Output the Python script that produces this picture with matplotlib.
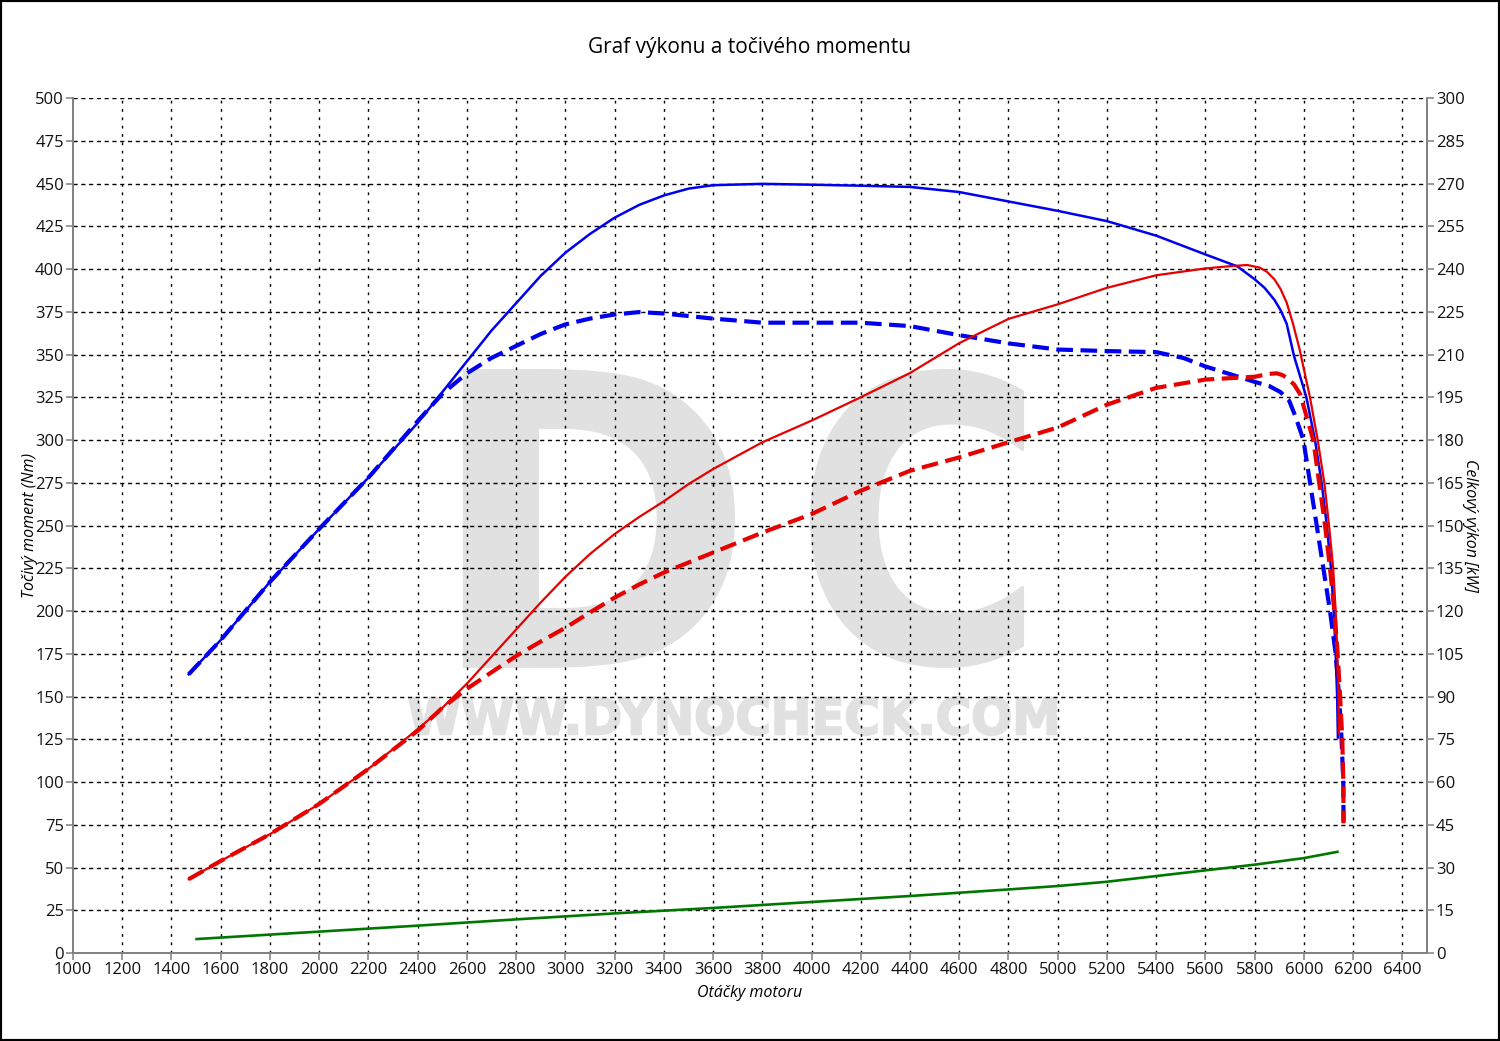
import matplotlib
matplotlib.use("Agg")
import matplotlib.pyplot as plt
from matplotlib.textpath import TextPath
from matplotlib.font_manager import FontProperties
from matplotlib.patches import PathPatch, Rectangle
from matplotlib.transforms import Affine2D
import numpy as np

plt.rcParams['font.family'] = ['Open Sans', 'DejaVu Sans']

# --- data ---
# torque after tuning (Nm)
rpm_tq_tuned = [1470, 1600, 1800, 2000, 2200, 2400, 2500, 2600, 2700, 2800, 2900, 3000, 3100, 3200,
                3300, 3400, 3500, 3600, 3800, 4000, 4200, 4400, 4600, 4800, 5000, 5200, 5400,
                5600, 5730, 5800, 5840, 5880, 5905, 5930, 5960, 6010, 6045, 6072, 6093, 6110,
                6121, 6129, 6135, 6138]
tq_tuned = [163, 183, 217, 248, 278, 310, 328, 346, 364, 380, 396, 409.5, 420.5, 430,
            437.5, 443, 447, 449, 449.8, 449.3, 448.7, 448, 445, 439.5, 434, 428, 419.5,
            408.5, 401.5, 394, 389, 382, 376, 368, 349, 325, 300, 275, 250, 225,
            200, 175, 150, 126]

# torque stock (Nm)
rpm_tq_stock = [1470, 1600, 1800, 2000, 2200, 2400, 2500, 2600, 2700, 2800, 2900, 3000, 3100, 3200,
                3300, 3400, 3600, 3800, 4000, 4200, 4400, 4600, 4800, 5000, 5200, 5400, 5510,
                5600, 5700, 5800, 5860, 5905, 5940, 5965, 5998, 6025, 6052, 6079, 6106, 6129,
                6143, 6153, 6160, 6161]
tq_stock = [163, 183, 217, 248, 278, 311, 327, 339, 348, 355, 362, 367.6, 371, 373.4,
            374.8, 374, 371, 368.6, 368.6, 368.6, 366.6, 361.3, 356.5, 352.9, 352, 351.4, 348,
            343, 338.5, 334, 331.5, 328, 323, 314, 300, 275, 250, 225, 200, 175,
            150, 125, 100, 76]

# power after tuning (kW)
rpm_pw_tuned = [1470, 1600, 1800, 2000, 2200, 2400, 2500, 2600, 2700, 2800, 2900, 3000, 3100, 3200,
                3300, 3400, 3500, 3600, 3800, 4000, 4200, 4400, 4600, 4800, 5000, 5200, 5400,
                5600, 5700, 5770, 5820, 5850, 5880, 5905, 5930, 5955, 5982, 6025, 6056, 6083,
                6102, 6119, 6129, 6136, 6140, 6142]
pw_tuned = [25.9, 32.3, 41.7, 52.3, 64.6, 78.5, 86, 94.5, 104, 113.5, 123, 132, 140, 147,
            153, 158.5, 164.5, 169.8, 179.2, 186.8, 195, 203.5, 214, 222.5, 227.6, 233.4, 237.8,
            240.2, 241, 241.4, 240.5, 239, 236.4, 233, 228.2, 221, 212, 194.8, 180, 165,
            150, 135, 120, 105, 90, 77]

# power stock (kW)
rpm_pw_stock = [1470, 1600, 1800, 2000, 2200, 2400, 2500, 2600, 2700, 2800, 2900, 3000, 3100, 3200,
                3300, 3400, 3500, 3600, 3800, 4000, 4200, 4400, 4600, 4800, 5000, 5200, 5400,
                5600, 5800, 5860, 5890, 5915, 5935, 5960, 5985, 6011, 6038, 6062, 6086, 6106,
                6124, 6137, 6147, 6156, 6160, 6161]
pw_stock = [25.9, 32.3, 41.7, 52.3, 64.6, 78, 86, 92.7, 98.5, 104.2, 109.3, 114.1, 119.5, 124.7,
            129.3, 133.5, 137, 140.5, 147.5, 154, 162.2, 169.2, 173.9, 179.2, 184.4, 192.4, 198.3,
            201.2, 202.2, 203.2, 203.4, 202.7, 201.5, 199.5, 196, 188.2, 180, 165, 150, 135,
            120, 105, 90, 75, 60, 45.5]

# drag / loss power (kW)
rpm_loss = [1502, 2000, 2400, 2800, 3200, 3600, 4000, 4400, 4800, 5000, 5200, 5400, 5600, 5800,
            6000, 6136]
loss = [4.9, 7.5, 9.6, 11.8, 13.9, 15.8, 17.9, 20, 22.3, 23.5, 25, 27, 29, 31,
        33.3, 35.5]

rpm_ticks = list(range(1000, 6401, 200))
tq_ticks = list(range(0, 501, 25))
pw_ticks = list(range(0, 301, 15))

W, H = 1500, 1041
fig = plt.figure(figsize=(W / 100, H / 100), dpi=100)
ax = fig.add_axes([73 / W, 1 - 953 / H, (1427 - 73) / W, (953 - 98) / H])
ax2 = ax.twinx()

# watermark, fitted into pixel boxes (left, top, right, bottom)
def watermark(text, box, color='#e1e1e1'):
    x0, y0, x1, y1 = box
    tp = TextPath((0, 0), text, size=100, prop=FontProperties(family='DejaVu Sans', weight='bold'))
    ext = tp.get_extents()
    tr = (Affine2D().translate(-ext.x0, -ext.y0)
          .scale((x1 - x0) / ext.width, (y1 - y0) / ext.height)
          .translate(x0, H - y1).scale(1 / W, 1 / H) + fig.transFigure)
    p = PathPatch(tp, transform=tr, facecolor=color, edgecolor=color, lw=1.5, zorder=0.3)
    ax.add_artist(p)

watermark('D', (464, 370, 734, 667))
watermark('C', (811, 370, 1023, 667))
watermark('WWW.DYNOCHECK.COM', (409, 697, 1056, 735))

blue = '#0000ee'
red = '#e60000'
ax.plot(rpm_tq_tuned, tq_tuned, color=blue, lw=1.8, zorder=3)
ax.plot(rpm_tq_stock, tq_stock, color=blue, lw=3, dashes=(4, 1.8), zorder=3)
ax2.plot(rpm_loss, loss, color='#007800', lw=1.9)
ax2.plot(rpm_pw_tuned, pw_tuned, color=red, lw=1.6)
ax2.plot(rpm_pw_stock, pw_stock, color=red, lw=3, dashes=(4, 1.8))

ax.set_xlim(1000, 6500)
ax.set_ylim(0, 500)
ax2.set_ylim(0, 300)
ax.set_xticks(rpm_ticks)
ax.set_yticks(tq_ticks)
ax2.set_yticks(pw_ticks)

# grid: dotted black
for y in tq_ticks[1:]:
    ax.axhline(y, color='black', lw=1.0, dashes=(3, 2.6), zorder=1)
for x in rpm_ticks[1:]:
    ax.axvline(x, color='black', lw=1.0, dashes=(2, 4), zorder=1)

spine_c = '#808080'
for a in (ax, ax2):
    a.spines['top'].set_visible(False)
    for s in ('left', 'right', 'bottom'):
        a.spines[s].set_color(spine_c)
        a.spines[s].set_linewidth(1.2)
    a.tick_params(length=5, width=1.1, color=spine_c, labelsize=12, pad=1.5, labelcolor='#111111')

fig.text(0.5, 1 - 47 / H, 'Graf výkonu a točivého momentu', ha='center', va='center', fontsize=15)
fig.text(750 / W, 1 - 993 / H, 'Otáčky motoru', ha='center', va='center', fontsize=11.5, style='italic')
fig.text(30 / W, 1 - 525 / H, 'Točivý moment (Nm)', ha='center', va='center', rotation=90,
         fontsize=11.5, style='italic')
fig.text(1470 / W, 1 - 525 / H, 'Celkový výkon [kW]', ha='center', va='center', rotation=270,
         fontsize=11.5, style='italic')

fig.patches.append(Rectangle((0, 0), 1, 1, transform=fig.transFigure, fill=False,
                             edgecolor='black', lw=3))

fig.savefig('out.png', dpi=100)
